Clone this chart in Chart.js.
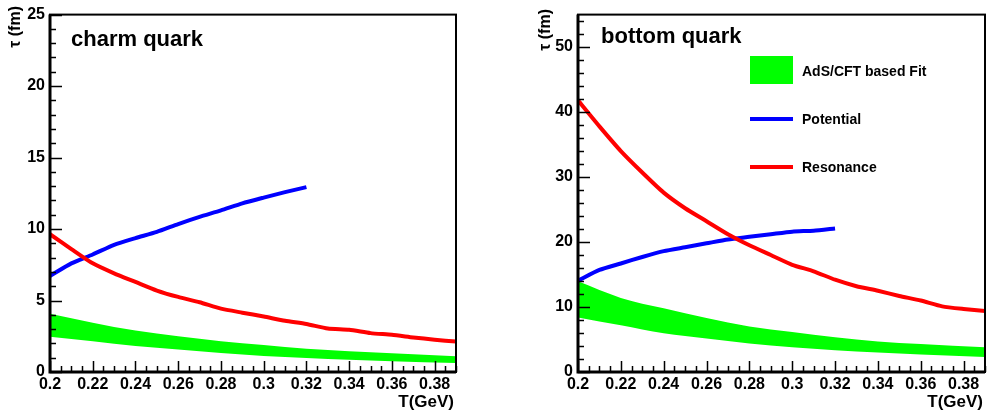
<!DOCTYPE html>
<html>
<head>
<meta charset="utf-8">
<script src="https://cdn.jsdelivr.net/npm/chart.js"></script>
<style>
    html, body { margin: 0; padding: 0; background: #fff; }
    #wrap { position: relative; width: 987px; height: 416px; }
    canvas { position: absolute; top: 0; }
    #charm { left: 0; }
    #bottom { left: 493px; }
</style>
</head>
<body>
<div id="wrap">
    <canvas id="charm" width="493" height="416"></canvas>
    <canvas id="bottom" width="494" height="416"></canvas>
</div>
<script>
// Charm quark panel
const charmResT = [0.2, 0.21, 0.22, 0.23, 0.24, 0.25, 0.26, 0.27, 0.28, 0.29, 0.30, 0.31, 0.32, 0.33, 0.34, 0.35, 0.36, 0.37, 0.38, 0.39];
const charmResonance = [9.64, 8.6, 7.6, 6.9, 6.3, 5.7, 5.25, 4.88, 4.43, 4.15, 3.88, 3.58, 3.36, 3.04, 2.95, 2.72, 2.6, 2.42, 2.26, 2.13];
const charmPotT = [0.2, 0.21, 0.22, 0.23, 0.24, 0.25, 0.26, 0.27, 0.28, 0.29, 0.30, 0.31, 0.32];
const charmPotential = [6.72, 7.6, 8.22, 8.9, 9.37, 9.8, 10.35, 10.85, 11.3, 11.8, 12.2, 12.58, 12.93];
const charmFitT = [0.2, 0.22, 0.24, 0.26, 0.28, 0.30, 0.32, 0.34, 0.36, 0.39];
const charmFitUpper = [4.08, 3.45, 2.9, 2.5, 2.15, 1.88, 1.62, 1.45, 1.32, 1.1];
const charmFitLower = [2.47, 2.15, 1.82, 1.58, 1.33, 1.12, 0.98, 0.86, 0.76, 0.63];

// Bottom quark panel
const bottomResT = [0.2, 0.21, 0.22, 0.23, 0.24, 0.25, 0.26, 0.27, 0.28, 0.29, 0.30, 0.31, 0.32, 0.33, 0.34, 0.35, 0.36, 0.37, 0.38, 0.39];
const bottomResonance = [41.8, 37.8, 34.0, 30.7, 27.6, 25.2, 23.2, 21.2, 19.5, 18.0, 16.5, 15.5, 14.2, 13.2, 12.5, 11.7, 11.0, 10.1, 9.7, 9.4];
const bottomPotT = [0.2, 0.21, 0.22, 0.23, 0.24, 0.25, 0.26, 0.27, 0.28, 0.29, 0.30, 0.31, 0.32];
const bottomPotential = [14.05, 15.7, 16.7, 17.7, 18.6, 19.2, 19.8, 20.4, 20.8, 21.2, 21.6, 21.75, 22.1];
const bottomFitT = [0.2, 0.22, 0.24, 0.26, 0.28, 0.30, 0.32, 0.34, 0.36, 0.39];
const bottomFitUpper = [13.95, 11.4, 9.8, 8.3, 7.0, 6.15, 5.35, 4.7, 4.3, 3.8];
const bottomFitLower = [8.4, 7.2, 5.95, 5.15, 4.4, 3.8, 3.35, 3.0, 2.7, 2.3];

// Tick labels
const xTicks = [0.2, 0.22, 0.24, 0.26, 0.28, 0.3, 0.32, 0.34, 0.36, 0.38];
const charmYTicks = [0, 5, 10, 15, 20, 25];
const bottomYTicks = [0, 10, 20, 30, 40, 50];

const legendLabels = ['AdS/CFT based Fit', 'Potential', 'Resonance'];

const FONT = 'Liberation Sans, Arial, Helvetica, sans-serif';
const RED = '#ff0000';
const BLUE = '#0000ff';
const GREEN = '#00ff00';

function pts(xs, ys) {
    return xs.map((x, i) => ({ x: x, y: ys[i] }));
}

// ROOT-like frame, inward ticks and text
const rootFrame = {
    id: 'rootFrame',
    afterDraw(chart, args, opts) {
        const ctx = chart.ctx;
        const a = chart.chartArea;
        const xs = chart.scales.x;
        const ys = chart.scales.y;
        ctx.save();
        ctx.strokeStyle = '#000';

        // ticks
        ctx.lineWidth = 1.5;
        ctx.beginPath();
        for (let v = 0.2; v <= 0.39 + 1e-9; v += 0.005) {
            const px = Math.round(xs.getPixelForValue(v)) + 0.5;
            const major = Math.abs(Math.round(v * 50) - v * 50) < 1e-6;
            ctx.moveTo(px, a.bottom);
            ctx.lineTo(px, a.bottom - (major ? 11 : 6));
        }
        for (let v = 0; v <= opts.yMax + 1e-9; v += opts.yMinor) {
            const py = Math.round(ys.getPixelForValue(v)) + 0.5;
            const major = Math.abs(v % opts.yMajor) < 1e-6;
            ctx.moveTo(a.left, py);
            ctx.lineTo(a.left + (major ? 12 : 6), py);
        }
        ctx.stroke();

        // frame
        ctx.lineWidth = 2;
        ctx.strokeRect(a.left, a.top, a.right - a.left, a.bottom - a.top);
        ctx.lineWidth = 3;
        ctx.beginPath();
        ctx.moveTo(a.left, a.top);
        ctx.lineTo(a.left, a.bottom);
        ctx.lineTo(a.right, a.bottom);
        ctx.stroke();

        // texts
        ctx.fillStyle = '#000';
        ctx.font = 'bold 22px ' + FONT;
        ctx.textAlign = 'left';
        ctx.textBaseline = 'alphabetic';
        ctx.fillText(opts.title, opts.titleX, opts.titleY);

        ctx.font = 'bold 17px ' + FONT;
        ctx.textAlign = 'right';
        ctx.textBaseline = 'middle';
        ctx.fillText('T(GeV)', a.right - 2, 402);

        ctx.save();
        ctx.translate(opts.yTitleX, opts.yTitleY);
        ctx.rotate(-Math.PI / 2);
        ctx.font = 'bold 16px ' + FONT;
        ctx.textAlign = 'right';
        ctx.textBaseline = 'middle';
        ctx.fillText('\u03c4 (fm)', 0, 0);
        ctx.restore();

        // legend
        if (opts.legend) {
            const lx = 257, lw = 43, tx = 309;
            ctx.font = 'bold 14px ' + FONT;
            ctx.textAlign = 'left';
            ctx.textBaseline = 'middle';
            ctx.fillStyle = GREEN;
            ctx.fillRect(lx, 56, lw, 28);
            ctx.fillStyle = '#000';
            ctx.fillText(legendLabels[0], tx, 72);
            ctx.lineWidth = 4;
            ctx.strokeStyle = BLUE;
            ctx.beginPath();
            ctx.moveTo(lx, 119);
            ctx.lineTo(lx + lw, 119);
            ctx.stroke();
            ctx.fillText(legendLabels[1], tx, 120);
            ctx.strokeStyle = RED;
            ctx.beginPath();
            ctx.moveTo(lx, 167);
            ctx.lineTo(lx + lw, 167);
            ctx.stroke();
            ctx.fillText(legendLabels[2], tx, 168);
        }
        ctx.restore();
    }
};

function makeChart(canvasId, d) {
    return new Chart(document.getElementById(canvasId), {
        type: 'line',
        data: {
            datasets: [
                {
                    label: legendLabels[2],
                    data: pts(d.resT, d.res),
                    borderColor: RED,
                    borderWidth: 4,
                    pointRadius: 0,
                    tension: 0.2,
                    fill: false
                },
                {
                    label: legendLabels[1],
                    data: pts(d.potT, d.pot),
                    borderColor: BLUE,
                    borderWidth: 4,
                    pointRadius: 0,
                    tension: 0.2,
                    fill: false
                },
                {
                    label: 'fit lower',
                    data: pts(d.fitT, d.fitLow),
                    borderColor: GREEN,
                    borderWidth: 0,
                    pointRadius: 0,
                    cubicInterpolationMode: 'monotone',
                    fill: false
                },
                {
                    label: legendLabels[0],
                    data: pts(d.fitT, d.fitUp),
                    borderColor: GREEN,
                    backgroundColor: GREEN,
                    borderWidth: 0,
                    pointRadius: 0,
                    cubicInterpolationMode: 'monotone',
                    fill: '-1'
                }
            ]
        },
        options: {
            responsive: false,
            animation: false,
            layout: { padding: { left: 0, top: 10, right: d.padRight, bottom: 0 } },
            plugins: {
                legend: { display: false },
                tooltip: { enabled: false },
                rootFrame: d.frame
            },
            scales: {
                x: {
                    type: 'linear',
                    min: 0.2,
                    max: 0.39,
                    grid: { display: false, drawTicks: false },
                    border: { display: false },
                    afterBuildTicks: (scale) => { scale.ticks = xTicks.map(v => ({ value: v })); },
                    afterFit: (scale) => { scale.height = 44; },
                    ticks: {
                        autoSkip: false,
                        maxRotation: 0,
                        padding: 3,
                        color: '#000',
                        font: { family: FONT, size: 16, weight: 'bold' },
                        callback: (v) => String(Number(v.toFixed(2)))
                    }
                },
                y: {
                    min: 0,
                    max: d.yMax,
                    grid: { display: false, drawTicks: false },
                    border: { display: false },
                    afterBuildTicks: (scale) => { scale.ticks = d.yTicks.map(v => ({ value: v })); },
                    afterFit: (scale) => { scale.width = d.yWidth; },
                    ticks: {
                        padding: 5,
                        color: '#000',
                        font: { family: FONT, size: 16, weight: 'bold' }
                    }
                }
            }
        },
        plugins: [rootFrame]
    });
}

makeChart('charm', {
    resT: charmResT, res: charmResonance,
    potT: charmPotT, pot: charmPotential,
    fitT: charmFitT, fitUp: charmFitUpper, fitLow: charmFitLower,
    yMax: 25, yTicks: charmYTicks, yWidth: 50, padRight: 37,
    frame: { title: 'charm quark', titleX: 71, titleY: 46, yTitleX: 16, yTitleY: 6,
             yMax: 25, yMinor: 1, yMajor: 5, legend: false }
});

makeChart('bottom', {
    resT: bottomResT, res: bottomResonance,
    potT: bottomPotT, pot: bottomPotential,
    fitT: bottomFitT, fitUp: bottomFitUpper, fitLow: bottomFitLower,
    yMax: 55, yTicks: bottomYTicks, yWidth: 85, padRight: 2,
    frame: { title: 'bottom quark', titleX: 108, titleY: 43, yTitleX: 53, yTitleY: 9,
             yMax: 55, yMinor: 2, yMajor: 10, legend: true }
});
</script>
</body>
</html>
